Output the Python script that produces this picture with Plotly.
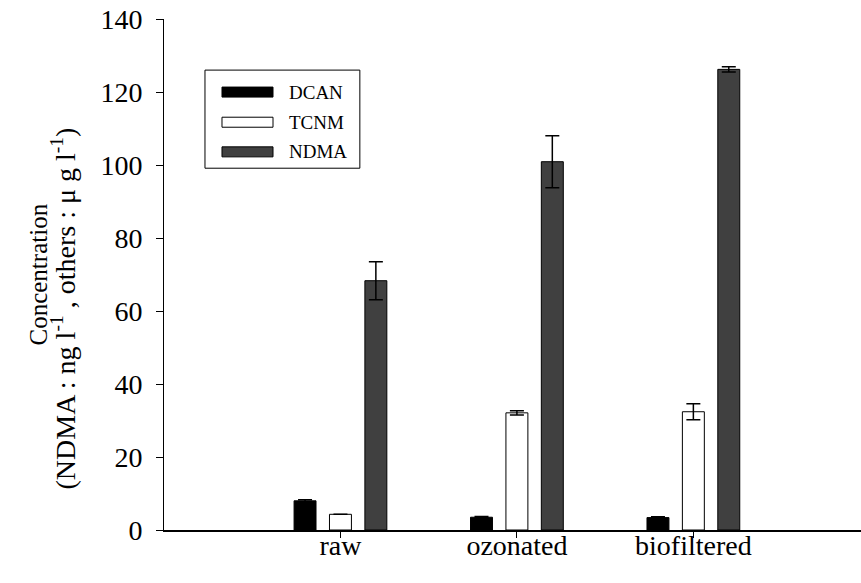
import plotly.graph_objects as go

categories = ["raw", "ozonated", "biofiltered"]
series_names = ["DCAN", "TCNM", "NDMA"]
dcan = [8.0, 3.5, 3.4]
dcan_err = [0.3, 0.2, 0.2]
tcnm = [4.3, 32.1, 32.4]
tcnm_err = [0.0, 0.6, 2.2]
ndma = [68.3, 100.9, 126.2]
ndma_err = [5.2, 7.1, 0.7]
colors = ["#000000", "#ffffff", "#404040"]
y_ticks = [0, 20, 40, 60, 80, 100, 120, 140]
title_line1 = "Concentration"
title_line2 = "(NDMA : ng l<sup>-1</sup> , others : \u03bc g l<sup>-1</sup>)"

FONT = "Liberation Serif, Times New Roman, serif"

fig = go.Figure()
for name, vals, errs, col in zip(series_names, [dcan, tcnm, ndma], [dcan_err, tcnm_err, ndma_err], colors):
    fig.add_trace(go.Bar(
        x=categories, y=vals, name=name,
        marker=dict(color=col, line=dict(color="#000000", width=1)),
        error_y=dict(type="data", array=errs, visible=True, color="#000000", thickness=1.5, width=7),
        showlegend=False,
    ))

fig.update_layout(
    width=861, height=583,
    margin=dict(l=164, r=0, t=19, b=53),
    barmode="group", bargap=0.398, bargroupgap=0.38,
    plot_bgcolor="white", paper_bgcolor="white",
    font=dict(family=FONT, size=28, color="#000000"),
    xaxis=dict(
        range=[-1, 2.95], showline=True, linecolor="#000000", linewidth=1.5,
        ticks="outside", ticklen=6, tickcolor="#000000", tickwidth=1,
        showgrid=False, zeroline=False, tickfont=dict(size=28), ticklabelstandoff=-16,
    ),
    yaxis=dict(
        range=[0, 140], tickvals=y_ticks, showline=True, linecolor="#000000", linewidth=1,
        ticks="outside", ticklen=7, tickcolor="#000000", tickwidth=1,
        showgrid=False, zeroline=False, tickfont=dict(size=28), ticklabelstandoff=8,
    ),
)

# y-axis title as two rotated text lines
fig.add_annotation(xref="paper", yref="paper", x=0, y=0.5, xshift=-126, text=title_line1,
                   textangle=-90, showarrow=False, xanchor="center", yanchor="middle",
                   font=dict(family=FONT, size=25, color="#000000"))
fig.add_annotation(xref="paper", yref="paper", x=0, y=0.5, xshift=-100, yshift=-34, text=title_line2,
                   textangle=-90, showarrow=False, xanchor="center", yanchor="middle",
                   font=dict(family=FONT, size=28, color="#000000"))

# custom legend
x0p, x1p = 0.0588, 0.281
fig.add_shape(type="rect", xref="paper", yref="paper", x0=x0p, x1=x1p, y0=0.708, y1=0.900,
              line=dict(color="#000000", width=1), fillcolor="white")
rows = [0.857, 0.798, 0.740]
for name, col, yc in zip(series_names, colors, rows):
    fig.add_shape(type="rect", xref="paper", yref="paper", x0=0.0832, x1=0.1564,
                  y0=yc - 0.0098, y1=yc + 0.0098, line=dict(color="#000000", width=1), fillcolor=col)
    fig.add_annotation(xref="paper", yref="paper", x=0.1765, y=yc, text=name, showarrow=False,
                       xanchor="left", yanchor="middle", font=dict(family=FONT, size=19, color="#000000"))

fig.write_html("out.html")
